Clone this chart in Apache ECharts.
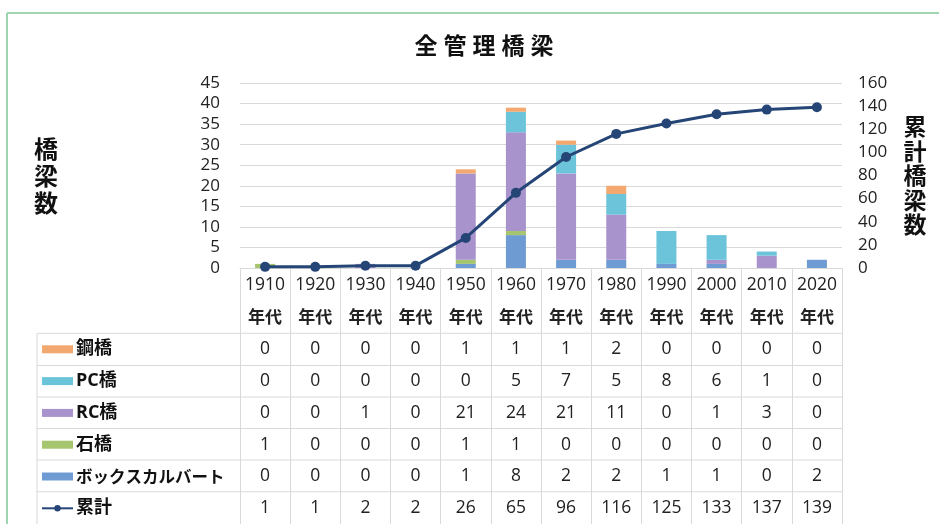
<!DOCTYPE html>
<html><head><meta charset="utf-8">
<script src="https://cdn.jsdelivr.net/npm/echarts@6/dist/echarts.min.js"></script>
<style>html,body{margin:0;padding:0;background:#fff}#c{width:939px;height:524px}</style>
</head><body><div id="c"></div>
<script>
const categories = ['1910','1920','1930','1940','1950','1960','1970','1980','1990','2000','2010','2020'];
const steel  = [0,0,0,0,1,1,1,2,0,0,0,0];
const pc     = [0,0,0,0,0,5,7,5,8,6,1,0];
const rc     = [0,0,1,0,21,24,21,11,0,1,3,0];
const stone  = [1,0,0,0,1,1,0,0,0,0,0,0];
const box    = [0,0,0,0,1,8,2,2,1,1,0,2];
const cumul  = [1,1,2,2,26,65,96,116,125,133,137,139];
const leftTicks = {min:0, max:45, interval:5};
const rightTicks = {min:0, max:160, interval:20};

const FONT = '"Open Sans","Noto Sans CJK JP",sans-serif';
const JFONT = '"Noto Sans CJK JP",sans-serif';
const GRID = {left:240, right:97, top:83, bottom:256};
const W = 939, H = 524;
const axisY = H - GRID.bottom;       // 268
const plotR = W - GRID.right;        // 842
const tableLeft = 37;
const rowLines = [333.3, 365.5, 397, 428.5, 460, 491.8];
const rowCenters = [349.3, 381.5, 413, 444.7, 476.5, 508.2];
const lineCol = '#d9d9d9';

const rows = [
  {name:'鋼橋', data:steel},
  {name:'PC橋', data:pc},
  {name:'RC橋', data:rc},
  {name:'石橋', data:stone},
  {name:'ボックスカルバート', data:box},
  {name:'累計', data:cumul}
];

const xAxes = [{
  type:'category', data:categories, gridIndex:0, position:'bottom',
  axisLine:{show:true, lineStyle:{color:lineCol, width:1}},
  axisTick:{show:true, length:H-axisY, lineStyle:{color:lineCol}},
  axisLabel:{interval:0, margin:2, color:'#222',
    formatter:(v)=>'{y|'+v+'}\n{n|年代}',
    rich:{y:{fontFamily:FONT, fontSize:17.5, lineHeight:31, color:'#222'},
          n:{fontFamily:JFONT, fontSize:17, fontWeight:'bold', lineHeight:31, color:'#222'}}}
}];
rows.forEach((r, i) => {
  xAxes.push({
    type:'category', data:categories, gridIndex:0, position:'bottom',
    offset: rowCenters[i] - axisY - 10,
    axisLine:{show:false}, axisTick:{show:false}, splitLine:{show:false},
    axisLabel:{interval:0, margin:0, lineHeight:20, fontFamily:FONT, fontSize:17.5, color:'#222',
      formatter:(v, idx)=> String(r.data[idx])}
  });
});

const colors = {steel:'#f2a86e', pc:'#6cc4da', rc:'#a893cc', stone:'#a5c56e', box:'#6f9bd3', line:'#254577'};
const barW = 20;
function bar(name, data, color){
  return {name, type:'bar', stack:'total', data, barWidth:barW, xAxisIndex:0, yAxisIndex:0,
    itemStyle:{color}, emphasis:{disabled:true}};
}

const hLines = rowLines.map(y => ({type:'line', silent:true,
  shape:{x1:tableLeft, y1:y, x2:plotR, y2:y}, style:{stroke:lineCol, lineWidth:1}}));

const option = {
  animation:false,
  title:{text:'全 管 理 橋 梁', left:479, top:31, textAlign:'center',
    textStyle:{fontFamily:FONT, fontSize:23, fontWeight:'bold', color:'#111'}},
  grid:GRID,
  legend:{orient:'vertical', left:41, top:rowCenters[0]-10, padding:0, itemGap:11.8, itemWidth:31, itemHeight:8,
    data:[{name:'鋼橋', icon:'rect'},{name:'PC橋', icon:'rect'},{name:'RC橋', icon:'rect'},
          {name:'石橋', icon:'rect'},{name:'ボックスカルバート', icon:'rect'},{name:'累計'}],
    selectedMode:false,
    formatter:(n)=> n==='ボックスカルバート' ? '{s|'+n+'}' : n,
    textStyle:{fontFamily:FONT, fontSize:18, fontWeight:'bold', color:'#111', lineHeight:20, padding:[0,0,0,-2],
      rich:{s:{fontFamily:JFONT, fontSize:16.5, fontWeight:'bold', color:'#111', lineHeight:20}}}},
  xAxis:xAxes,
  yAxis:[
    {type:'value', min:leftTicks.min, max:leftTicks.max, interval:leftTicks.interval,
      name:'橋\n梁\n数', nameLocation:'middle', nameGap:194, nameRotate:0,
      nameTextStyle:{fontFamily:JFONT, fontSize:24, fontWeight:'bold', lineHeight:27, color:'#111', align:'center', verticalAlign:'middle'},
      axisLine:{show:false}, axisTick:{show:false},
      axisLabel:{margin:20, fontFamily:FONT, fontSize:17, color:'#222'},
      splitLine:{lineStyle:{color:lineCol}}},
    {type:'value', min:rightTicks.min, max:rightTicks.max, interval:rightTicks.interval, position:'right',
      name:'累\n計\n橋\n梁\n数', nameLocation:'middle', nameGap:73, nameRotate:0,
      nameTextStyle:{fontFamily:JFONT, fontSize:23, fontWeight:'bold', lineHeight:24.5, color:'#111', align:'center', verticalAlign:'middle'},
      axisLine:{show:false}, axisTick:{show:false},
      axisLabel:{margin:16, fontFamily:FONT, fontSize:17, color:'#222'},
      splitLine:{show:false}}
  ],
  series:[
    bar('ボックスカルバート', box, colors.box),
    bar('石橋', stone, colors.stone),
    bar('RC橋', rc, colors.rc),
    bar('PC橋', pc, colors.pc),
    bar('鋼橋', steel, colors.steel),
    {name:'累計', type:'line', data:cumul, xAxisIndex:0, yAxisIndex:1, symbol:'circle', symbolSize:10,
      lineStyle:{color:colors.line, width:3}, itemStyle:{color:colors.line}, z:5}
  ],
  graphic:[
    ...hLines,
    {type:'line', silent:true, shape:{x1:tableLeft, y1:rowLines[0], x2:tableLeft, y2:H}, style:{stroke:lineCol, lineWidth:1}},
    {type:'line', silent:true, shape:{x1:7, y1:13, x2:W, y2:13}, style:{stroke:'#9fd6b2', lineWidth:2}},
    {type:'line', silent:true, shape:{x1:7, y1:13, x2:7, y2:H}, style:{stroke:'#9fd6b2', lineWidth:2}}
  ]
};
const chart = echarts.init(document.getElementById('c'), null, {renderer:'canvas'});
chart.setOption(option);
</script></body></html>
